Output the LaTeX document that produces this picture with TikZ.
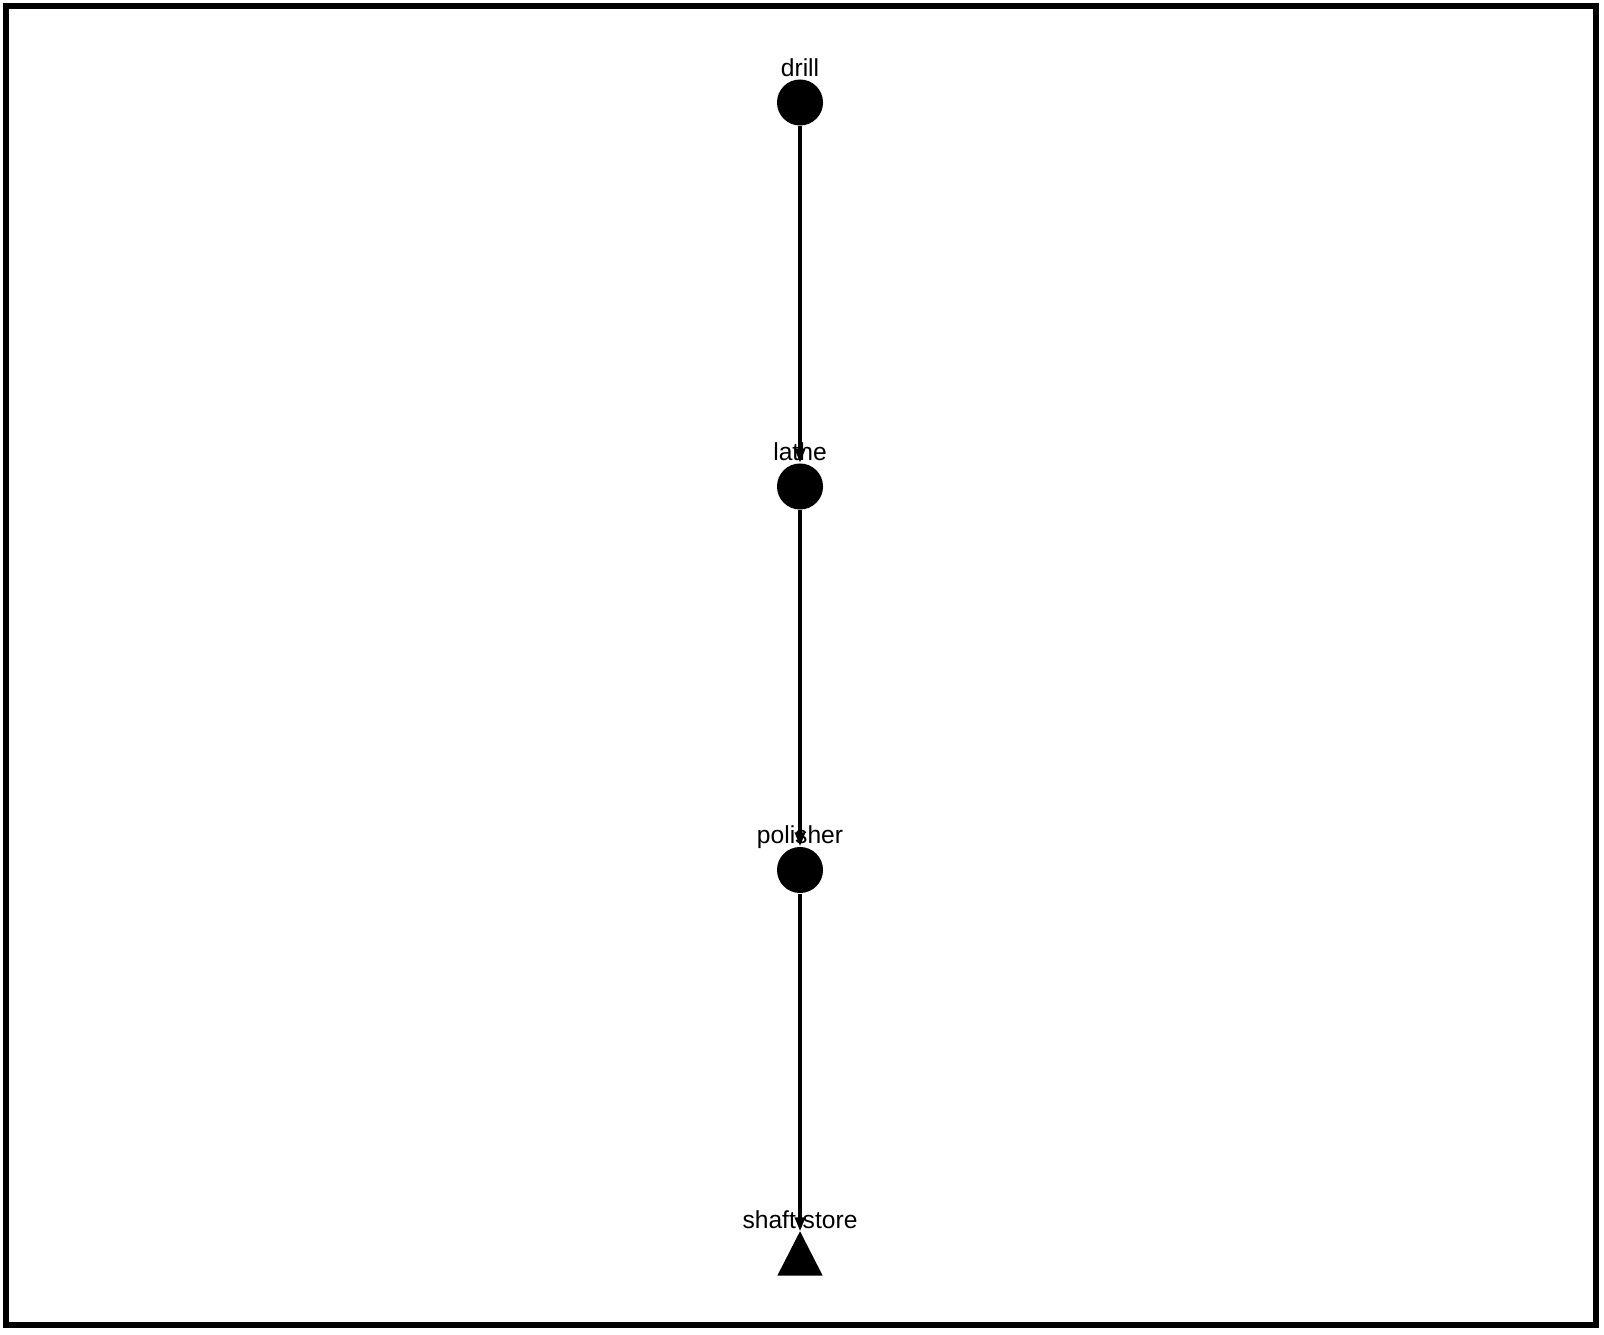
\documentclass[tikz,border=0pt]{standalone}
\usepackage{fontspec}
\setmainfont{Liberation Sans}
\usetikzlibrary{arrows,arrows.meta}

\begin{document}
\begin{tikzpicture}[x=0.01cm,y=-0.01cm,
machine/.style={circle,fill=black,inner sep=0pt,minimum size=0.46cm},
storebox/.style={inner sep=0pt,minimum width=0.44cm,minimum height=0.43cm},
tag/.style={font=\fontsize{7}{8}\selectfont,inner sep=0pt,text depth=0pt},
arrow/.style={-{Triangle[length=0.14cm,width=0.1cm]},line width=0.9pt} ]

\useasboundingbox (0,0) rectangle (1604,1334);
\draw[line width=1.7pt] (6,6) rectangle (1596,1325);

\node[machine,label={[tag,label distance=0.02cm]above:drill}](drill) at (800,102.5) {};

\node[machine,label={[tag,label distance=0.02cm]above:lathe}](lathe) at (800,486.5) {};

\node[machine,label={[tag,label distance=0.02cm]above:polisher}](polisher) at (800,870) {};

\node[storebox,label={[tag,label distance=0.02cm]above:shaft store}](store) at (800,1253.5) {};
\fill (store.south west) -- (store.south east) -- (store.north) -- cycle;

\draw[arrow] (drill) -- (lathe);

\draw[arrow] (lathe) -- (polisher);

\draw[arrow] (polisher) -- (store.north);

\end{tikzpicture}
\end{document}
